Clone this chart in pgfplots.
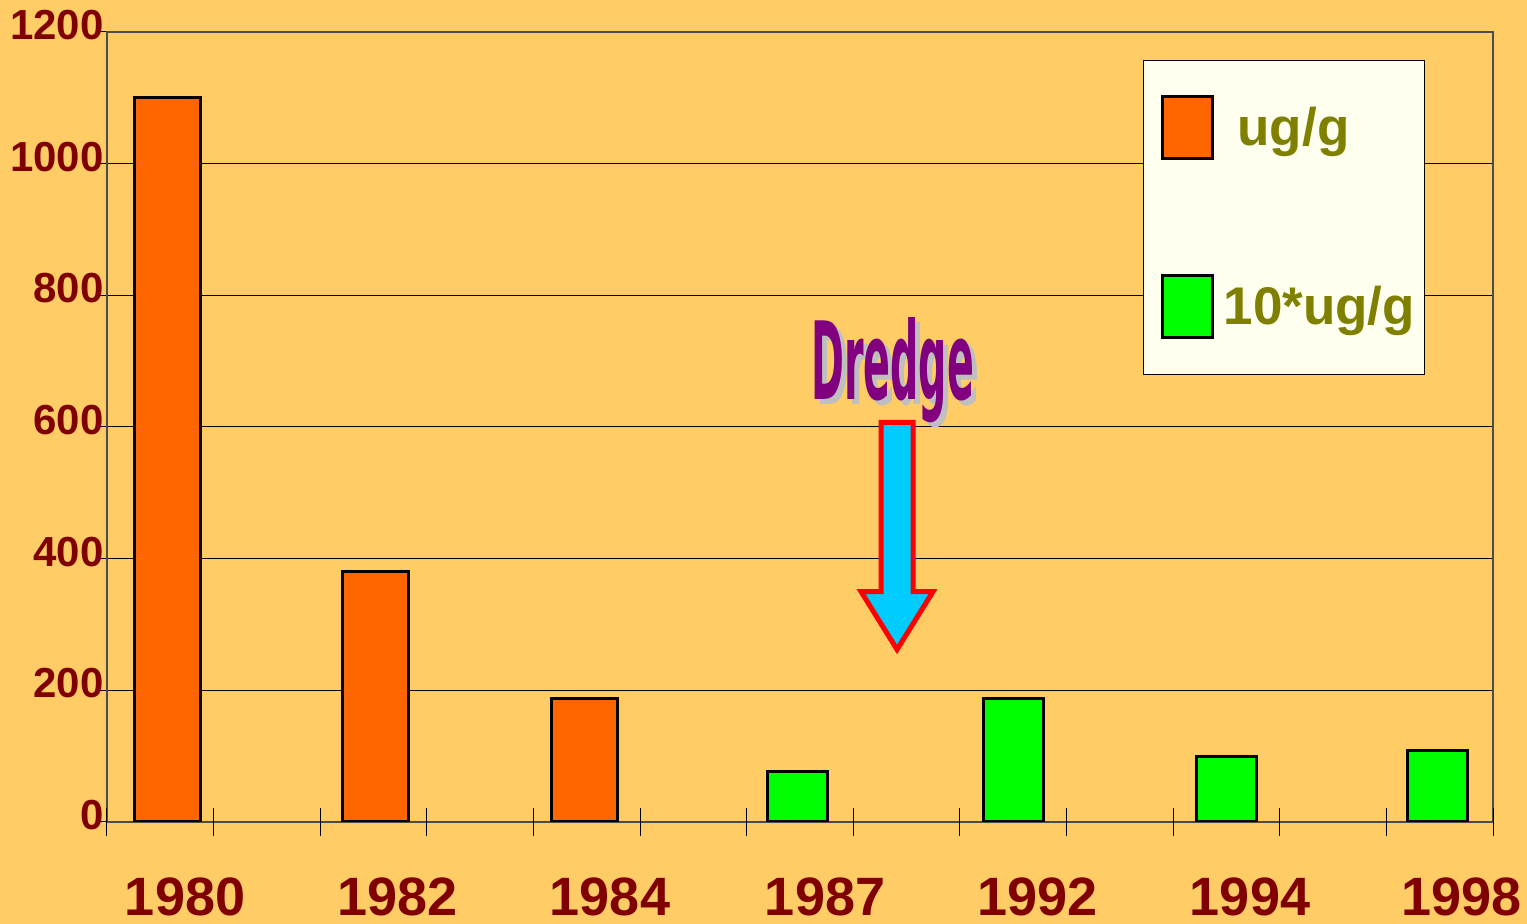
\documentclass[border=0pt]{standalone}
\usepackage{fontspec}
\setmainfont{Liberation Sans}
\newfontfamily\dredgefont{DejaVu Sans}
\usepackage{pgfplots}
\pgfplotsset{compat=1.18}
\definecolor{bgc}{HTML}{FFCC66}
\definecolor{orangec}{HTML}{FF6600}
\definecolor{greenc}{HTML}{00FF00}
\definecolor{darkredc}{HTML}{800000}
\definecolor{olivec}{HTML}{808000}
\definecolor{purplec}{HTML}{800080}
\definecolor{legbg}{HTML}{FFFFF0}
\definecolor{bluec}{HTML}{00CCFF}
\begin{document}
\begin{tikzpicture}
\fill[bgc] (-53.5pt,-51pt) rectangle (710pt,411pt);
\begin{axis}[
  at={(0,0)}, anchor=south west,
  scale only axis, width=693pt, height=395pt,
  xmin=0, xmax=13, ymin=0, ymax=1200,
  enlargelimits=false,
  /pgf/number format/assume math mode=true,
  /pgf/number format/1000 sep={},
  axis line style={draw=black!70, line width=1pt},
  tick style={black, line width=0.5pt},
  tick pos=left,
  major tick length=4.5pt,
  xtick={0.732,2.729,4.718,6.735,8.732,10.721,12.709},
  xticklabels={1980,1982,1984,1987,1992,1994,1998},
  x tick style={draw=none},
  xticklabel style={anchor=north, inner sep=0pt, yshift=-27.5pt,
       font=\fontsize{27}{30}\selectfont\bfseries, text=darkredc},
  extra x ticks={0,1,...,13},
  extra x tick labels={},
  extra x tick style={major tick length=14pt, xtick align=center, grid=none,
       tick pos=left, x tick style={draw=black, line width=0.5pt}},
  ytick={0,200,...,1200},
  ytick align=outside,
  yticklabel style={anchor=east, inner sep=0pt, xshift=3pt, yshift=3.5pt,
     font=\fontsize{21}{24}\selectfont\bfseries, text=darkredc},
  ymajorgrids, grid style={black, line width=0.5pt},
  legend image code/.code={\path (-5.5pt,0pt); \draw[#1, line width=1.5pt] (0pt,-15.5pt) rectangle (25pt,15.5pt);},
  legend style={at={(0.7475,0.9646)}, anchor=north west, fill=legbg, draw=black,
     line width=0.5pt, font=\fontsize{26.5}{30}\selectfont\bfseries, text=olivec,
     row sep=57pt, inner xsep=3pt, inner ysep=17.5pt},
  legend cell align=left,
]
\addplot[ybar, bar width=33pt, bar shift=0pt, fill=orangec, draw=black, line width=1.5pt]
  coordinates {(0.572,1100) (2.514,380) (4.483,187)};
\addlegendentry{\hspace{10pt}ug/g}
\addplot[ybar, bar width=30pt, bar shift=0pt, fill=greenc, draw=black, line width=1.5pt]
  coordinates {(6.472,76) (8.503,187) (10.496,100) (12.479,108)};
\addlegendentry{\hspace{3pt}10*ug/g}
\draw[red, line width=2.5pt, fill=bluec, line join=miter]
  ([xshift=-8pt]axis cs:7.41,607) -- ([xshift=-8pt]axis cs:7.41,350)
  -- ([xshift=-18pt]axis cs:7.41,350) -- (axis cs:7.41,262)
  -- ([xshift=18pt]axis cs:7.41,350) -- ([xshift=8pt]axis cs:7.41,350)
  -- ([xshift=8pt]axis cs:7.41,607) -- cycle;
\node[anchor=base, inner sep=0pt, font=\dredgefont\bfseries] at (axis cs:7.37,641)
  {\makebox[0pt][l]{\hspace{2.5pt}\raisebox{-2.5pt}{\color{black!25}\resizebox{81.5pt}{41pt}{Dredge}}}%
   {\color{purplec}\resizebox{81.5pt}{41pt}{Dredge}}};
\end{axis}
\pgfresetboundingbox
\path (-53.5pt,-51pt) rectangle (710pt,411pt);
\end{tikzpicture}
\end{document}
